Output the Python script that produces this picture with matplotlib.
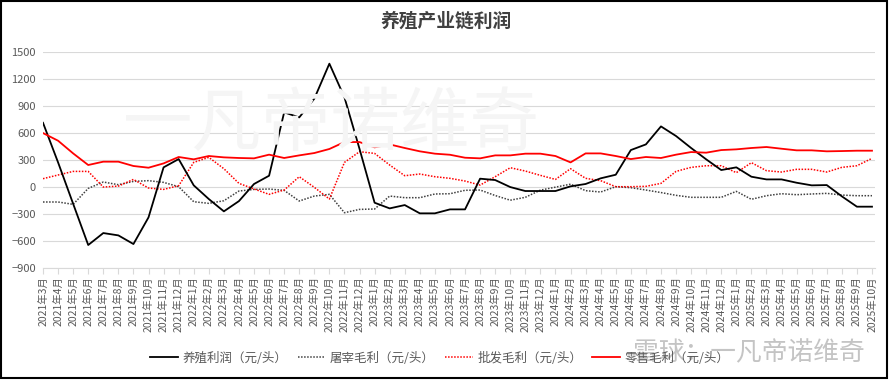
import matplotlib
matplotlib.use("Agg")
import matplotlib.pyplot as plt
from matplotlib.patches import Rectangle

plt.rcParams['font.family'] = ['Noto Sans CJK SC', 'DejaVu Sans']

# monthly labels 2021-03 .. 2025-10
months = [f"{y}年{m}月" for y in range(2021, 2026) for m in range(1, 13)
          if not (y == 2021 and m < 3) and not (y == 2025 and m > 10)]

# 养殖利润 (元/头)
breeding = [710, 270, -190, -648, -515, -541, -637, -341, 215, 307,
            15, -137, -274, -160, 30, 122, 826, 770, 978, 1367,
            993, 420, -178, -241, -204, -296, -296, -252, -252, 89,
            74, -4, -48, -48, -48, 4, 30, 93, 133, 407,
            470, 670, 563, 430, 304, 185, 215, 111, 81, 81,
            44, 15, 18, -107, -222, -222]
# 屠宰毛利 (元/头)
slaughter = [-170, -170, -196, -19, 52, 22, 59, 67, 48, 0,
             -167, -185, -156, -48, -30, -26, -41, -159, -104, -85,
             -289, -252, -248, -104, -122, -122, -81, -78, -40, -37,
             -98, -150, -118, -38, -5, 28, -44, -59, 0, -11,
             -37, -65, -96, -118, -118, -118, -52, -140, -100, -78,
             -89, -81, -74, -93, -100, -100]
# 批发毛利 (元/头)
wholesale = [89, 130, 170, 170, -4, 7, 81, -15, -30, 11,
             270, 326, 200, 37, -25, -85, -37, 111, -7, -137,
             270, 389, 370, 241, 122, 141, 111, 93, 63, 18,
             111, 211, 174, 126, 81, 200, 93, 67, 0, 0,
             4, 37, 170, 215, 233, 233, 156, 267, 178, 163,
             193, 193, 163, 215, 233, 315]
# 零售毛利 (元/头)
retail = [596, 511, 370, 241, 278, 278, 230, 211, 259, 330,
          304, 341, 326, 319, 315, 356, 319, 348, 374, 419,
          496, 496, 437, 470, 430, 393, 367, 355, 322, 315,
          348, 348, 367, 367, 341, 270, 370, 370, 341, 307,
          330, 319, 356, 385, 378, 407, 415, 430, 441, 422,
          404, 404, 393, 396, 400, 400]

W, H = 890, 380
fig = plt.figure(figsize=(W / 100, H / 100), dpi=100)
ax = fig.add_axes([43 / W, 1 - 267.7 / H, (875 - 43) / W, (267.7 - 51.7) / H])
ax.patch.set_visible(False)

# faint watermarks
fig.text(331 / W, 1 - 125 / H, '一凡帝诺维奇', fontsize=50, color='#f5f5f5',
         ha='center', va='center', zorder=0)
fig.text(749 / W, 1 - 353 / H, '雪球：一凡帝诺维奇', fontsize=18.5, color='#c4c4c4',
         ha='center', va='center', zorder=5)

x = list(range(len(months)))
ax.plot(x, breeding, color='black', lw=1.3, label='养殖利润（元/头）', zorder=4)
ax.plot(x, slaughter, color='#404040', lw=1.1, ls=(0, (1, 1)), label='屠宰毛利（元/头）', zorder=3)
ax.plot(x, wholesale, color='#ff0000', lw=1.1, ls=(0, (1, 1)), label='批发毛利（元/头）', zorder=3)
ax.plot(x, retail, color='#ff0000', lw=1.3, label='零售毛利（元/头）', zorder=4)

ax.set_ylim(-900, 1500)
ax.set_yticks(range(-900, 1501, 300))
ax.set_xlim(0, 55.2)
ax.set_xticks(x)
ax.set_xticklabels(months, rotation=90, fontsize=7.5, color='#595959')
ax.grid(axis='y', color='#d9d9d9', lw=0.8)
ax.set_axisbelow(True)
for s in ['top', 'right', 'left']:
    ax.spines[s].set_visible(False)
ax.spines['bottom'].set_color('#d9d9d9')
ax.tick_params(axis='y', length=0, labelsize=8, labelcolor='#595959', pad=5)
ax.tick_params(axis='x', length=4, color='#d9d9d9', pad=2)

fig.text(446 / W, 1 - 21 / H, '养殖产业链利润', fontsize=13.5, fontweight='bold',
         color='#404040', ha='center', va='center')

leg = fig.legend(ncol=4, loc='center', bbox_to_anchor=(440 / W, 1 - 358 / H),
                 frameon=False, fontsize=9, handlelength=2.2, columnspacing=0.8,
                 handletextpad=0.4)
for t in leg.get_texts():
    t.set_color('#595959')

fig.add_artist(Rectangle((1 / W, 2 / H), 886 / W, 377 / H, transform=fig.transFigure,
                         fill=False, edgecolor='black', lw=1.5))

fig.savefig('out.png', dpi=100)
